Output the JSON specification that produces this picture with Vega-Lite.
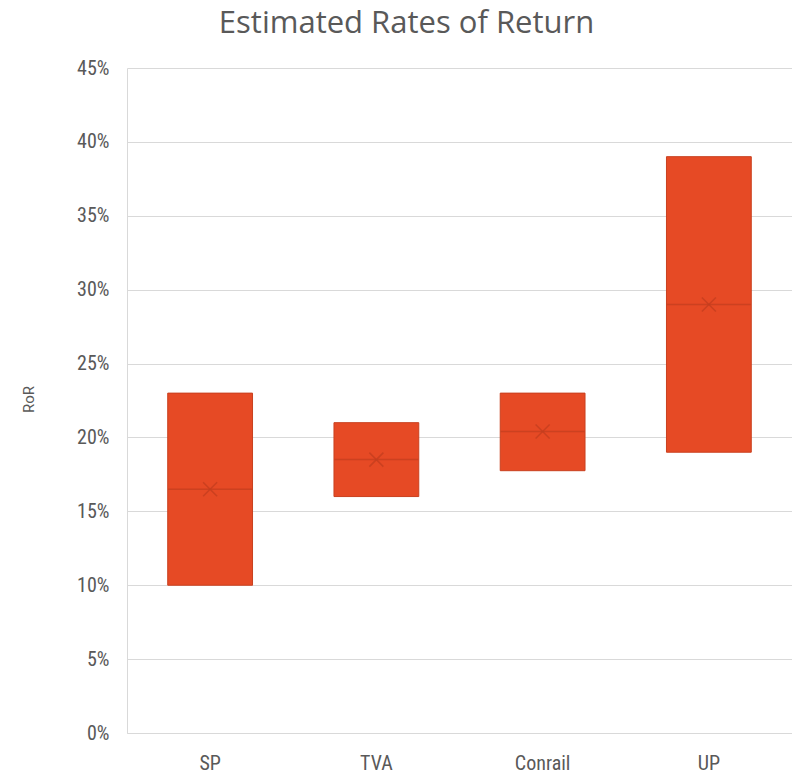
{
  "$schema": "https://vega.github.io/schema/vega-lite/v6.json",
  "autosize": "none",
  "width": 665,
  "height": 665,
  "padding": {"left": 127, "top": 68, "right": 0, "bottom": 42},
  "background": "white",
  "title": {
    "text": "Estimated Rates of Return",
    "font": "Open Sans",
    "fontSize": 31,
    "fontWeight": 500,
    "color": "#595959",
    "anchor": "middle",
    "frame": "group",
    "dx": -53,
    "dy": 13,
    "offset": 0,
    "baseline": "bottom"
  },
  "config": {
    "view": {"stroke": null},
    "axis": {
      "labelFont": "Liberation Sans Narrow, Roboto Condensed, Roboto",
      "labelFontSize": 20,
      "labelColor": "#595959",
      "titleFont": "Roboto",
      "titleColor": "#595959",
      "titleFontWeight": "normal",
      "gridColor": "#d9d9d9",
      "domainColor": "#d9d9d9",
      "ticks": false
    }
  },
  "data": {
    "values": [
      {"company": "SP", "low": 0.10, "high": 0.23, "median": 0.165, "mean": 0.165},
      {"company": "TVA", "low": 0.16, "high": 0.21, "median": 0.185, "mean": 0.185},
      {"company": "Conrail", "low": 0.1775, "high": 0.23, "median": 0.204, "mean": 0.204},
      {"company": "UP", "low": 0.19, "high": 0.39, "median": 0.29, "mean": 0.29}
    ]
  },
  "encoding": {
    "x": {
      "field": "company",
      "type": "nominal",
      "sort": null,
      "scale": {"paddingInner": 0.49, "paddingOuter": 0.245},
      "axis": {"title": null, "labelAngle": 0, "labelPadding": 20, "grid": false}
    }
  },
  "layer": [
    {
      "mark": {"type": "bar", "color": "#e64a25", "stroke": "#c9401f", "strokeWidth": 1},
      "encoding": {
        "y": {
          "field": "low",
          "type": "quantitative",
          "scale": {"domain": [0, 0.45], "nice": false},
          "axis": {
            "title": "RoR",
            "titleFontSize": 15,
            "titleAngle": -90,
            "titleX": -99,
            "titleY": 331,
            "titleAlign": "center",
            "titleBaseline": "middle",
            "values": [0, 0.05, 0.1, 0.15, 0.2, 0.25, 0.3, 0.35, 0.4, 0.45],
            "format": ".0%",
            "labelPadding": 18,
            "domain": true
          }
        },
        "y2": {"field": "high"}
      }
    },
    {
      "mark": {"type": "tick", "color": "#c13d1e", "thickness": 1.5, "size": 84},
      "encoding": {
        "y": {"field": "median", "type": "quantitative"}
      }
    },
    {
      "mark": {
        "type": "point",
        "shape": "M-1,-1L1,1M-1,1L1,-1",
        "filled": false,
        "size": 196,
        "strokeWidth": 1.5,
        "color": "#c13d1e",
        "opacity": 0.7
      },
      "encoding": {
        "y": {"field": "mean", "type": "quantitative"}
      }
    }
  ]
}
